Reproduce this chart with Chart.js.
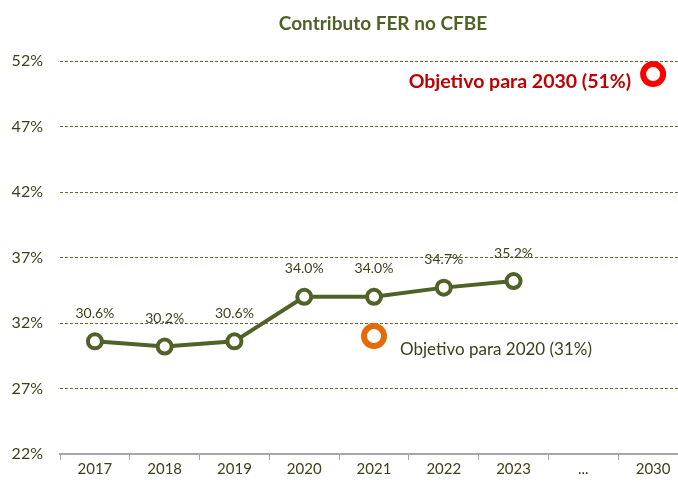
<!DOCTYPE html>
<html>
<head>
<meta charset="utf-8">
<style>
  html, body { margin: 0; padding: 0; overflow: hidden; background: #fff; }
  #wrap { width: 690px; height: 484px; }
  canvas { display: block; }
</style>
</head>
<body>
<div id="wrap"><canvas id="ferChart" width="690" height="484" style="width:690px;height:484px"></canvas></div>
<script src="https://cdn.jsdelivr.net/npm/chart.js"></script>
<script>
    const years = ['2017', '2018', '2019', '2020', '2021', '2022', '2023', '...', '2030'];
    const ferShare = [30.6, 30.2, 30.6, 34.0, 34.0, 34.7, 35.2, null, null];
    const target2020 = [null, null, null, null, 31, null, null, null, null];
    const target2030 = [null, null, null, null, null, null, null, null, 51];
    const yTicks = [22, 27, 32, 37, 42, 47, 52];

    const olive = '#4f6228';
    const textDark = '#3f3f1c';
    const font = 'Lato, "Open Sans", sans-serif';

    // title centred over the plot area (as in the source)
    const plotTitle = {
        id: 'plotTitle',
        afterDraw(chart) {
            const a = chart.chartArea;
            const c = chart.ctx;
            c.save();
            c.font = 'bold 19px ' + font;
            c.fillStyle = olive;
            c.textAlign = 'center';
            c.textBaseline = 'middle';
            c.fillText('Contributo FER no CFBE', (a.left + a.right) / 2 + 9, 24);
            c.restore();
        }
    };

    // value labels above the main series
    const valueLabels = {
        id: 'valueLabels',
        afterDatasetsDraw(chart) {
            const meta = chart.getDatasetMeta(0);
            const c = chart.ctx;
            c.save();
            c.font = '14px ' + font;
            c.fillStyle = textDark;
            c.textAlign = 'center';
            c.textBaseline = 'middle';
            meta.data.forEach((pt, i) => {
                if (ferShare[i] == null) return;
                c.fillText(ferShare[i].toFixed(1) + '%', pt.x, pt.y - 28);
            });
            c.restore();
        }
    };

    // notes next to the two target points
    const targetNotes = {
        id: 'targetNotes',
        afterDatasetsDraw(chart) {
            const c = chart.ctx;
            const p20 = chart.getDatasetMeta(1).data[4];
            const p30 = chart.getDatasetMeta(2).data[8];
            c.save();
            c.textBaseline = 'middle';
            c.font = '17px ' + font;
            c.fillStyle = textDark;
            c.textAlign = 'left';
            c.fillText('Objetivo para 2020 (31%)', p20.x + 26, p20.y + 13);
            c.font = 'bold 19.5px ' + font;
            c.fillStyle = '#c00000';
            c.textAlign = 'right';
            c.fillText('Objetivo para 2030 (51%)', p30.x - 22, p30.y + 8);
            c.restore();
        }
    };

    new Chart(document.getElementById('ferChart'), {
        type: 'line',
        data: {
            labels: years,
            datasets: [{
                data: ferShare,
                borderColor: olive,
                borderWidth: 4,
                pointBackgroundColor: '#fff',
                pointBorderColor: olive,
                pointBorderWidth: 4,
                pointRadius: 7,
                spanGaps: false
            }, {
                data: target2020,
                showLine: false,
                pointBackgroundColor: '#fff',
                pointBorderColor: '#e36c09',
                pointBorderWidth: 6,
                pointRadius: 10
            }, {
                data: target2030,
                showLine: false,
                pointBackgroundColor: '#fff',
                pointBorderColor: '#ff0000',
                pointBorderWidth: 6,
                pointRadius: 10
            }]
        },
        options: {
            responsive: false,
            animation: false,
            events: [],
            layout: { autoPadding: false, padding: { top: 61, right: 2, bottom: 6, left: 0 } },
            plugins: {
                legend: { display: false },
                tooltip: { enabled: false },
                title: { display: false }
            },
            scales: {
                x: {
                    offset: true,
                    afterFit(axis) { axis.paddingLeft = 0; axis.paddingRight = 0; },
                    grid: {
                        offset: true,
                        drawOnChartArea: false,
                        drawTicks: true,
                        tickLength: 6,
                        color: '#a6a6a6',
                        lineWidth: 1
                    },
                    border: { display: true, color: '#a6a6a6', width: 2 },
                    ticks: {
                        color: textDark,
                        font: { family: font, size: 15 },
                        padding: 0,
                        autoSkip: false,
                        maxRotation: 0
                    }
                },
                y: {
                    min: 22,
                    max: 52,
                    afterBuildTicks(axis) {
                        axis.ticks = yTicks.map(v => ({ value: v }));
                    },
                    afterFit(axis) { axis.width = 60; },
                    grid: {
                        color: (ctx) => ctx.tick && ctx.tick.value === 22 ? 'rgba(0,0,0,0)' : '#5f6f33',
                        lineWidth: 1,
                        drawTicks: false
                    },
                    border: { display: false, dash: [3, 2] },
                    ticks: {
                        color: textDark,
                        font: { family: font, size: 16 },
                        padding: 17,
                        callback: (v) => v + '%'
                    }
                }
            }
        },
        plugins: [plotTitle, valueLabels, targetNotes]
    });
</script>
</body>
</html>
